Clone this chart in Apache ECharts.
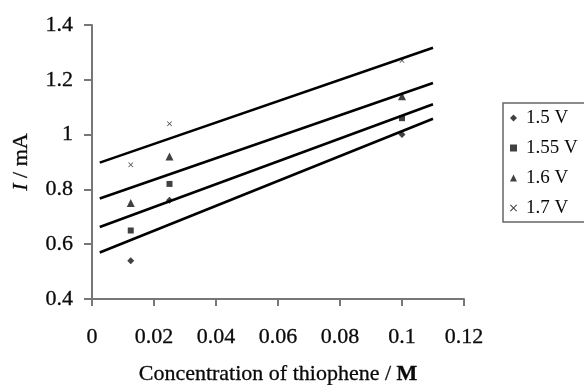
<!DOCTYPE html>
<html>
<head>
<meta charset="utf-8">
<script src="https://cdn.jsdelivr.net/npm/echarts@6/dist/echarts.min.js"></script>
<style>
  html, body { margin: 0; padding: 0; background: #fff; }
  #chart { width: 584px; height: 385px; }
</style>
</head>
<body>
<div id="chart"></div>
<script>
// Thiophene concentrations (M) at which current was measured
const concentrations = [0.0125, 0.025, 0.1];

// Measured current (mA) for each applied potential
const seriesNames = ['1.5 V', '1.55 V', '1.6 V', '1.7 V'];
const current15 = [0.54, 0.76, 1.00];
const current155 = [0.65, 0.82, 1.06];
const current16 = [0.75, 0.92, 1.14];
const current17 = [0.89, 1.04, 1.27];

// Range over which the linear trend lines are drawn
const trendRange = [0.0025, 0.11];

const FONT = '"Liberation Serif", "Times New Roman", serif';
const INK = '#0a0a0a';
const crossPath = 'path://M0,1 L1,0 L5,4 L9,0 L10,1 L6,5 L10,9 L9,10 L5,6 L1,10 L0,9 L4,5 Z';

const groups = [
  { name: seriesNames[0], values: current15, symbol: 'diamond', size: 7 },
  { name: seriesNames[1], values: current155, symbol: 'rect', size: 6 },
  { name: seriesNames[2], values: current16, symbol: 'triangle', size: 8 },
  { name: seriesNames[3], values: current17, symbol: crossPath, size: 5 }
];

// Least-squares fit y = a + b x
function linearFit(xs, ys) {
  const n = xs.length;
  const mx = xs.reduce((s, v) => s + v, 0) / n;
  const my = ys.reduce((s, v) => s + v, 0) / n;
  let sxy = 0, sxx = 0;
  for (let i = 0; i < n; i++) {
    sxy += (xs[i] - mx) * (ys[i] - my);
    sxx += (xs[i] - mx) * (xs[i] - mx);
  }
  const b = sxy / sxx;
  return { a: my - b * mx, b: b };
}

const series = [];
groups.forEach(g => {
  series.push({
    name: g.name,
    type: 'scatter',
    symbol: g.symbol,
    symbolSize: g.size,
    itemStyle: { color: '#111' },
    data: concentrations.map((x, i) => [x, g.values[i]]),
    z: 2
  });
});
groups.forEach(g => {
  const fit = linearFit(concentrations, g.values);
  series.push({
    name: g.name + ' fit',
    type: 'line',
    symbol: 'none',
    silent: true,
    lineStyle: { color: '#000', width: 2.6 },
    data: trendRange.map(x => [x, fit.a + fit.b * x]),
    z: 3
  });
});

const heavy = { textBorderColor: INK, textBorderWidth: 0.3 };

const chart = echarts.init(document.getElementById('chart'), null, { renderer: 'canvas' });
chart.setOption({
  animation: false,
  backgroundColor: '#fff',
  grid: { left: 92, right: 120, top: 25, bottom: 86, containLabel: false, outerBoundsMode: 'none' },
  xAxis: {
    type: 'value',
    min: 0, max: 0.12, interval: 0.02,
    name: '{a|Concentration of thiophene / }{b|M}',
    nameLocation: 'middle',
    nameGap: 64,
    nameTextStyle: {
      rich: {
        a: Object.assign({ fontFamily: FONT, fontSize: 22, color: INK }, heavy),
        b: Object.assign({ fontFamily: FONT, fontSize: 22, color: INK, fontWeight: 'bold' }, heavy)
      }
    },
    axisLine: { show: true, lineStyle: { color: '#777', width: 2 } },
    axisTick: { show: true, length: 7, lineStyle: { color: '#777', width: 2 } },
    axisLabel: Object.assign({ fontFamily: FONT, fontSize: 22, color: INK, margin: 27 }, heavy),
    splitLine: { show: false }
  },
  yAxis: {
    type: 'value',
    min: 0.4, max: 1.4, interval: 0.2,
    name: '{i|I}{a| / mA}',
    nameLocation: 'middle',
    nameRotate: 90,
    nameGap: 60,
    nameTextStyle: {
      rich: {
        i: Object.assign({ fontFamily: FONT, fontSize: 22, color: INK, fontStyle: 'italic' }, heavy),
        a: Object.assign({ fontFamily: FONT, fontSize: 22, color: INK }, heavy)
      }
    },
    axisLine: { show: true, lineStyle: { color: '#777', width: 2 } },
    axisTick: { show: true, length: 8, lineStyle: { color: '#777', width: 2 } },
    axisLabel: Object.assign({ fontFamily: FONT, fontSize: 22, color: INK, margin: 19 }, heavy),
    splitLine: { show: false }
  },
  legend: {
    orient: 'vertical',
    left: 503,
    top: 103,
    data: seriesNames,
    itemWidth: 7,
    itemHeight: 7,
    itemGap: 10,
    padding: [5, 30, 4, 7],
    borderColor: '#666',
    borderWidth: 1.5,
    textStyle: { fontFamily: FONT, fontSize: 19, color: INK, lineHeight: 20, padding: [0, 0, 0, 4] }
  },
  series: series
});
</script>
</body>
</html>
